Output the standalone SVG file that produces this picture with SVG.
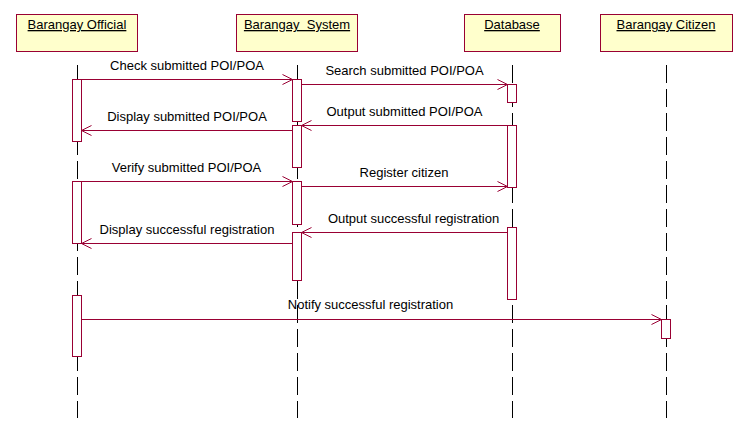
<svg xmlns="http://www.w3.org/2000/svg" width="741" height="435" viewBox="0 0 741 435">
<style>
.box{fill:#FFFFCC;stroke:#990033;stroke-width:1}
.act{fill:#FFFFFF;stroke:#990033;stroke-width:1}
.life{stroke:#000000;stroke-width:1;stroke-dasharray:18 6;fill:none}
.msg{stroke:#990033;stroke-width:1;fill:none;marker-end:url(#arr)}
.t{font-family:"Liberation Sans",Arial,sans-serif;font-size:13px;fill:#000000}
.lbl{text-anchor:middle;text-decoration:underline;white-space:pre}
.ml{text-anchor:middle}
</style>
<defs>
<marker id="arr" markerUnits="userSpaceOnUse" markerWidth="14" markerHeight="14" viewBox="-12 -7 14 14" refX="0" refY="0" orient="auto">
<path d="M-10,-5 L0,0 L-10,5" fill="none" stroke="#990033" stroke-width="1"/>
</marker>
</defs>
<rect width="741" height="435" fill="#FFFFFF"/>
<g id="lifelines">
<line class="life" x1="77.5" y1="65" x2="77.5" y2="418"/>
<line class="life" x1="297.5" y1="65" x2="297.5" y2="418"/>
<line class="life" x1="512.5" y1="65" x2="512.5" y2="418"/>
<line class="life" x1="666.5" y1="65" x2="666.5" y2="418"/>
</g>
<g id="official">
<rect class="box" x="16.5" y="14.5" width="121" height="37"/>
<text class="t lbl" x="77" y="29" xml:space="preserve">Barangay Official</text>
<rect class="act" x="72.5" y="79.5" width="9" height="62"/>
<rect class="act" x="72.5" y="181.5" width="9" height="62"/>
<rect class="act" x="72.5" y="295.5" width="9" height="61"/>
</g>
<g id="system">
<rect class="box" x="236.5" y="14.5" width="121" height="37"/>
<text class="t lbl" x="297" y="29" xml:space="preserve">Barangay  System</text>
<rect class="act" x="292.5" y="79.5" width="9" height="42"/>
<rect class="act" x="292.5" y="125.5" width="9" height="42"/>
<rect class="act" x="292.5" y="181.5" width="9" height="43"/>
<rect class="act" x="292.5" y="232.5" width="9" height="48"/>
</g>
<g id="database">
<rect class="box" x="464.5" y="14.5" width="96" height="37"/>
<text class="t lbl" x="512" y="29">Database</text>
<rect class="act" x="507.5" y="84.5" width="9" height="18"/>
<rect class="act" x="507.5" y="125.5" width="9" height="62"/>
<rect class="act" x="507.5" y="227.5" width="9" height="72"/>
</g>
<g id="citizen">
<rect class="box" x="600.5" y="14.5" width="132" height="37"/>
<text class="t lbl" x="666" y="29">Barangay Citizen</text>
<rect class="act" x="661.5" y="319.5" width="9" height="19"/>
</g>
<g id="connectors">
<line class="msg" x1="81.5" y1="79.5" x2="292.5" y2="79.5"/>
<line class="msg" x1="301.5" y1="84.5" x2="507.5" y2="84.5"/>
<line class="msg" x1="507.5" y1="125.5" x2="301.5" y2="125.5"/>
<line class="msg" x1="292.5" y1="130.5" x2="81.5" y2="130.5"/>
<line class="msg" x1="81.5" y1="181.5" x2="292.5" y2="181.5"/>
<line class="msg" x1="301.5" y1="186.5" x2="507.5" y2="186.5"/>
<line class="msg" x1="507.5" y1="232.5" x2="301.5" y2="232.5"/>
<line class="msg" x1="292.5" y1="243.5" x2="81.5" y2="243.5"/>
<line class="msg" x1="81.5" y1="319.5" x2="661.5" y2="319.5"/>
<text class="t ml" x="187" y="70">Check submitted POI/POA</text>
<text class="t ml" x="404.5" y="75">Search submitted POI/POA</text>
<text class="t ml" x="404.5" y="116">Output submitted POI/POA</text>
<text class="t ml" x="187" y="121">Display submitted POI/POA</text>
<text class="t ml" x="186.5" y="172">Verify submitted POI/POA</text>
<text class="t ml" x="404" y="177">Register citizen</text>
<text class="t ml" x="413.5" y="223">Output successful registration</text>
<text class="t ml" x="187" y="234">Display successful registration</text>
<text class="t ml" x="370.5" y="309">Notify successful registration</text>
</g>
</svg>
